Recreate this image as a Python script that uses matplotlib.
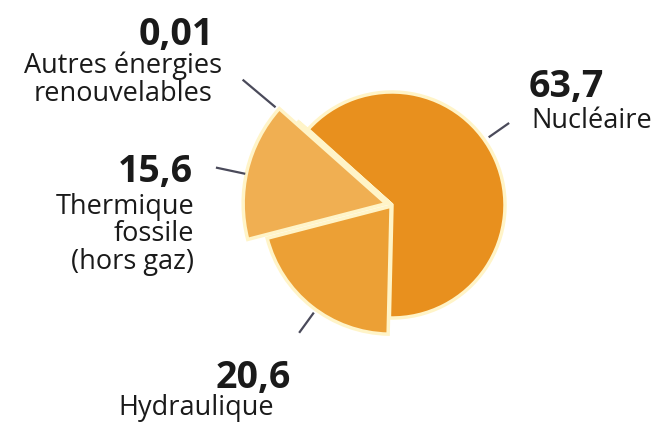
import matplotlib
matplotlib.use('Agg')
import matplotlib.pyplot as plt
from matplotlib.patches import Wedge
import numpy as np

plt.rcParams['font.family'] = ['Open Sans', 'DejaVu Sans']

# parts of electricity production (%)
labels = ['Nucléaire', 'Hydraulique', 'Thermique\nfossile\n(hors gaz)',
          'Autres énergies\nrenouvelables']
values = [63.7, 20.6, 15.6, 0.01]
value_text = ['63,7', '20,6', '15,6', '0,01']
colors = ['#E8901E', '#ECA035', '#F0AF52', '#F5C070']

W, H = 667, 423
fig = plt.figure(figsize=(W / 100, H / 100), dpi=100)
ax = fig.add_axes([0, 0, 1, 1])
ax.set_xlim(0, W)
ax.set_ylim(0, H)
ax.axis('off')

def Y(y):
    # image rows -> axis units
    return H - y

cx, cy = 392, Y(205)
radii = [113, 128, 143, 125]
explode = [0, 1.5, 6, 0]

# clockwise from the top-left edge
start = 138.0
angles = np.cumsum([0] + [v / 100 * 360 for v in values])
for i, v in enumerate(values):
    t2 = start - angles[i]
    t1 = start - angles[i + 1]
    mid = np.deg2rad((t1 + t2) / 2)
    ox = cx + explode[i] * np.cos(mid)
    oy = cy + explode[i] * np.sin(mid)
    ax.add_patch(Wedge((ox, oy), radii[i], t1, t2,
                       facecolor=colors[i], edgecolor='#FFF4C8', lw=2.5,
                       joinstyle='miter'))

# leader lines (angle deg, r from, r to)
leaders = [(35, 118, 143), (-126, 133, 158), (168, 150, 180), (140, 152, 195)]
for ang, r1, r2 in leaders:
    a = np.deg2rad(ang)
    ax.plot([cx + r1 * np.cos(a), cx + r2 * np.cos(a)],
            [cy + r1 * np.sin(a), cy + r2 * np.sin(a)],
            color='#4A4A5A', lw=1.6, solid_capstyle='butt')

numkw = dict(fontsize=27, fontweight='bold', color='#1A1A1A', va='baseline')
labkw = dict(fontsize=19.5, color='#1A1A1A', va='baseline', linespacing=0.98)

# Nucléaire
ax.text(529, Y(97), value_text[0], ha='left', **numkw)
ax.text(531, Y(128), labels[0], ha='left', **labkw)
# Hydraulique
ax.text(291, Y(388), value_text[1], ha='right', **numkw)
ax.text(196, Y(415), labels[1], ha='center', **labkw)
# Thermique
ax.text(193, Y(182), value_text[2], ha='right', **numkw)
ax.text(194, Y(269), labels[2], ha='right', multialignment='right', **labkw)
# Autres
ax.text(214, Y(45), value_text[3], ha='right', **numkw)
ax.text(222, Y(101), labels[3], ha='right', multialignment='center', **labkw)

fig.savefig('out.png', dpi=100)
